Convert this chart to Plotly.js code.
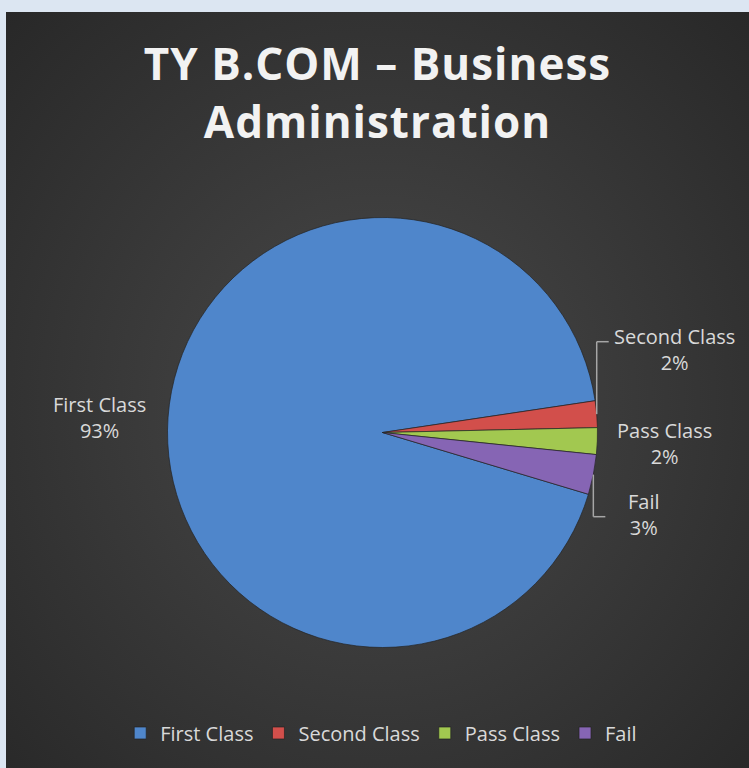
<!DOCTYPE html>
<html>
<head>
<meta charset="utf-8">
<script src="https://cdn.plot.ly/plotly-3.0.1.min.js"></script>
<style>
html,body{margin:0;padding:0;background:#dce6f2;width:749px;height:768px;overflow:hidden;}
#chart{position:absolute;left:6px;top:12px;width:743px;height:756px;
background:radial-gradient(ellipse at 50% 52%, #4a4a4a 0%, #3c3c3c 40%, #282828 100%);}
#chart .gtitle{letter-spacing:1px;}
</style>
</head>
<body>
<div id="chart"></div>
<script>
const categories = ["First Class", "Second Class", "Pass Class", "Fail"];
const percentValues = [93, 2, 2, 3];
const sliceColors = ["#4f86cb", "#d24f4b", "#a2c850", "#8665b4"];
const chartTitle = "TY B.COM – Business<br>Administration";

// label centre placement (pixels in the chart div) and leader elbow height (null = no leader)
const labelPos = [[93.5, 405], [668, 337.5], [658.5, 431.5], [637.5, 502]];
const leaderY = [null, 329.7, null, 504.7];

const W = 743, H = 756;
const cx = 376.5, cy = 420.5, R = 215;
const rotation = 106.7;

const trace = {
  type: "pie",
  labels: categories,
  values: percentValues,
  sort: false,
  direction: "clockwise",
  rotation: rotation,
  marker: {colors: sliceColors, line: {color: "rgba(35,35,35,0.7)", width: 1}},
  textinfo: "none",
  domain: {x: [(cx - R) / W, (cx + R) / W], y: [1 - (cy + R) / H, 1 - (cy - R) / H]},
  hoverinfo: "label+percent"
};

const total = percentValues.reduce((a, b) => a + b, 0);
const annotations = [];
const shapes = [];
const px = (x) => x / W, py = (y) => 1 - y / H;
let cum = 0;
percentValues.forEach((v, i) => {
  const mid = rotation + 360 * (cum + v / 2) / total;
  cum += v;
  const a = mid * Math.PI / 180;
  const ex = cx + R * Math.sin(a), ey = cy - R * Math.cos(a);
  const [lx, ly] = labelPos[i];
  annotations.push({
    xref: "paper", yref: "paper",
    x: px(lx), y: py(ly), xanchor: "center", yanchor: "middle",
    text: categories[i] + "<br>" + Math.round(100 * v / total) + "%",
    showarrow: false, align: "center",
    font: {family: "Open Sans, sans-serif", size: 20, color: "#d9d9d9"}
  });
  if (leaderY[i] !== null) {
    const ty = leaderY[i];
    shapes.push({type: "line", xref: "paper", yref: "paper",
      x0: px(ex), y0: py(ey), x1: px(ex), y1: py(ty),
      line: {color: "#a6a6a6", width: 1.5}});
    shapes.push({type: "line", xref: "paper", yref: "paper",
      x0: px(ex), y0: py(ty), x1: px(ex + 12), y1: py(ty),
      line: {color: "#a6a6a6", width: 1.5}});
  }
});

const layout = {
  width: W, height: H,
  margin: {l: 0, r: 0, t: 0, b: 0},
  paper_bgcolor: "rgba(0,0,0,0)",
  plot_bgcolor: "rgba(0,0,0,0)",
  title: {
    text: chartTitle,
    font: {family: "Open Sans, sans-serif", size: 44, color: "#f2f2f2", weight: "bold"},
    x: 0.5, xanchor: "center", y: 0.9096, yanchor: "middle"
  },
  annotations: annotations,
  shapes: shapes,
  showlegend: true,
  legend: {
    orientation: "h", x: 0.505, xanchor: "center", y: 0.0463, yanchor: "middle",
    font: {family: "Open Sans, sans-serif", size: 20, color: "#d9d9d9"},
    bgcolor: "rgba(0,0,0,0)"
  }
};

Plotly.newPlot("chart", [trace], layout, {displayModeBar: false});
</script>
</body>
</html>
